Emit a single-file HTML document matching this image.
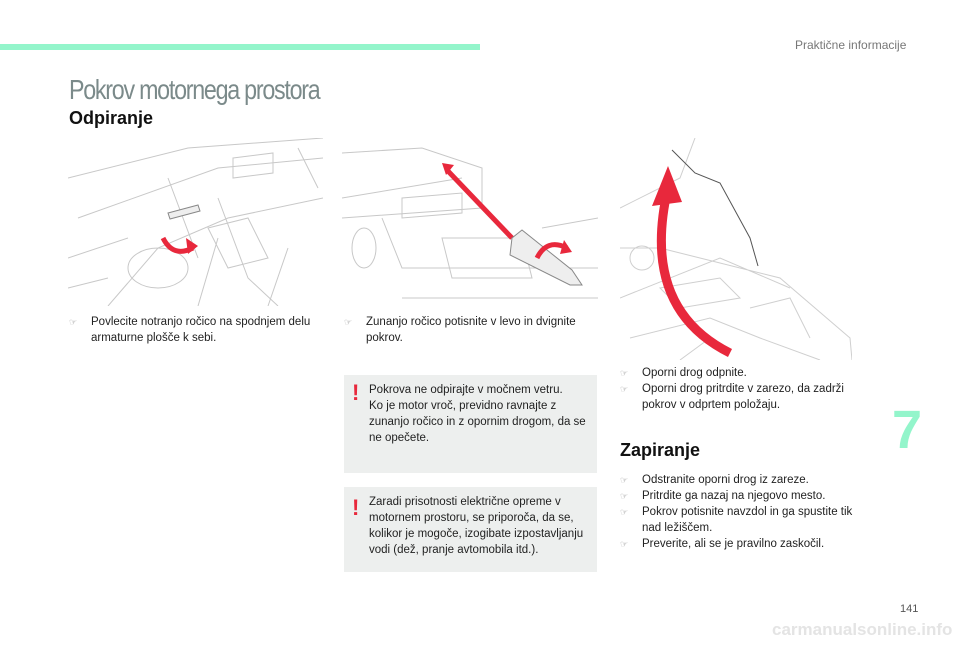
<!DOCTYPE html>
<html><head><meta charset="utf-8"><style>
body{margin:0;width:960px;height:649px;background:#fff;position:relative;overflow:hidden;font-family:"Liberation Sans",sans-serif;color:#222}
.a{position:absolute}
.t{font-size:11.5px;line-height:16px}
.b{position:absolute;left:0;color:#999;font-size:9px}
.li{position:relative;padding-left:22px}
.box{position:absolute;background:#edefee;left:344px;width:253px}
.ex{position:absolute;left:8px;color:#e8283c;font-weight:bold;font-size:22px;font-family:"Liberation Sans",sans-serif}
</style></head><body>
<div class="a" style="left:0;top:44px;width:480px;height:6px;background:#93f5cb"></div>
<div class="a" style="left:795px;top:38px;font-size:12px;color:#777">Praktične informacije</div>
<div class="a" style="left:69px;top:74px;font-size:28px;color:#7b8a8a;letter-spacing:-1.5px;transform:scaleX(0.83);transform-origin:left">Pokrov motornega prostora</div>
<div class="a" style="left:69px;top:108px;font-size:18px;font-weight:bold;color:#111">Odpiranje</div>

<svg class="a" style="left:68px;top:138px" width="255" height="168" stroke="#c8c8c8" fill="none" stroke-width="1">
<path d="M0 40 L120 10 L255 0 M10 80 L150 30 L255 20 M40 168 L90 110 L160 80 L255 60 M130 168 L150 100 M200 168 L220 110 M100 40 L130 120 M150 60 L180 140 L210 168 M0 120 L60 100 M60 130 a30 20 0 1 0 60 0 a30 20 0 1 0 -60 0 M140 90 l40 -10 l20 40 l-40 10z M165 20 l40 -5 l0 20 l-40 5z M230 10 l20 40 M0 150 L40 140"/>
<path d="M100 75 l30 -8 l2 6 l-30 8z" stroke="#888" fill="#eee"/>
<path d="M95 100 q10 20 30 10" stroke="#e8283c" stroke-width="5"/>
<path d="M118 100 l12 8 l-10 8z" fill="#e8283c" stroke="none"/>
</svg>

<svg class="a" style="left:342px;top:138px" width="256" height="164" stroke="#c8c8c8" fill="none">
<path d="M0 15 L80 10 L140 30 L140 70 L0 80 M0 60 L120 40 M10 110 a12 20 0 1 0 24 0 a12 20 0 1 0 -24 0 M60 60 l60 -5 l0 20 l-60 5z M40 80 L60 130 L256 130 M60 160 L256 160 M100 100 l80 0 l10 40 l-80 0z M200 90 L256 80"/>
<path d="M105 32 L170 100" stroke="#e8283c" stroke-width="5"/>
<path d="M100 25 l12 2 l-8 10z" fill="#e8283c" stroke="none"/>
<path d="M170 100 l10 -8 l50 40 l10 15 l-12 0 l-60 -30z" stroke="#888" fill="#eee"/>
<path d="M195 120 q10 -20 30 -10" stroke="#e8283c" stroke-width="5"/>
<path d="M222 102 l8 12 l-12 2z" fill="#e8283c" stroke="none"/>
</svg>

<svg class="a" style="left:620px;top:138px" width="232" height="222" stroke="#cfcfcf" fill="none">
<path d="M0 70 L60 40 L75 0 M0 110 L40 110 L160 140 L230 200 L232 222 M0 160 L100 120 L170 150 M10 200 L90 180 L140 200 L200 222 M10 120 a12 12 0 1 0 24 0 a12 12 0 1 0 -24 0 M40 150 l60 -10 l20 20 l-60 10z M130 170 l40 -10 l20 40 M60 222 L90 200"/>
<path d="M52 12 L75 35 L100 45 L130 100 L138 128" stroke="#555"/>
<path d="M110 215 Q20 170 48 50" stroke="#e8283c" stroke-width="9"/>
<path d="M32 68 L48 28 L62 64z" fill="#e8283c" stroke="none"/>
</svg>

<div class="a t" style="left:69px;top:314px;width:260px">
<div class="li"><span class="b">☞</span>Povlecite notranjo ročico na spodnjem delu armaturne plošče k sebi.</div></div>
<div class="a t" style="left:344px;top:314px;width:260px">
<div class="li"><span class="b">☞</span>Zunanjo ročico potisnite v levo in dvignite pokrov.</div></div>

<div class="box" style="top:375px;height:98px"><div class="ex" style="top:5px">!</div>
<div class="t" style="position:absolute;left:25px;top:7px;width:230px">Pokrova ne odpirajte v močnem vetru.<br>Ko je motor vroč, previdno ravnajte z zunanjo ročico in z opornim drogom, da se ne opečete.</div></div>
<div class="box" style="top:487px;height:85px"><div class="ex" style="top:8px">!</div>
<div class="t" style="position:absolute;left:25px;top:7px;width:230px">Zaradi prisotnosti električne opreme v motornem prostoru, se priporoča, da se, kolikor je mogoče, izogibate izpostavljanju vodi (dež, pranje avtomobila itd.).</div></div>

<div class="a t" style="left:620px;top:365px;width:250px">
<div class="li"><span class="b">☞</span>Oporni drog odpnite.</div>
<div class="li"><span class="b">☞</span>Oporni drog pritrdite v zarezo, da zadrži pokrov v odprtem položaju.</div></div>
<div class="a" style="left:620px;top:440px;font-size:18px;font-weight:bold;color:#111">Zapiranje</div>
<div class="a t" style="left:620px;top:472px;width:250px">
<div class="li"><span class="b">☞</span>Odstranite oporni drog iz zareze.</div>
<div class="li"><span class="b">☞</span>Pritrdite ga nazaj na njegovo mesto.</div>
<div class="li"><span class="b">☞</span>Pokrov potisnite navzdol in ga spustite tik nad ležiščem.</div>
<div class="li"><span class="b">☞</span>Preverite, ali se je pravilno zaskočil.</div></div>

<div class="a" style="left:892px;top:400px;font-size:54px;font-weight:bold;color:#93f5cb;line-height:60px">7</div>
<div class="a" style="left:900px;top:603px;font-size:11px;color:#555">141</div>
<div class="a" style="left:772px;top:620px;font-size:17px;color:#e4e4e4;font-weight:bold;white-space:nowrap">carmanualsonline.info</div>
</body></html>
